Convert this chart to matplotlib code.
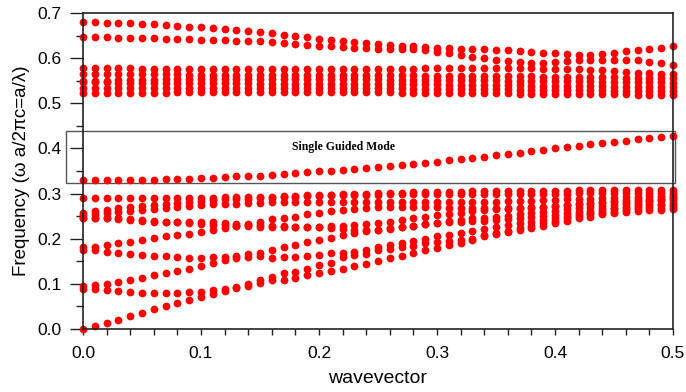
#!/usr/bin/env python3

import numpy as np
import matplotlib
matplotlib.use('Agg')
import matplotlib.pyplot as plt
from matplotlib.patches import Rectangle
from matplotlib.ticker import MultipleLocator, FormatStrFormatter

# wavevector grid (51 points, step 0.01)
k = np.round(np.arange(51) * 0.01, 2)

# ---- lower bands (below the guided mode) ----
p1 = [0.000, 0.007, 0.014, 0.021, 0.029, 0.036, 0.044, 0.050, 0.057, 0.064,
      0.071, 0.077, 0.084, 0.090, 0.096, 0.103, 0.108, 0.109, 0.112, 0.120,
      0.125, 0.129, 0.134, 0.140, 0.145, 0.151, 0.157, 0.162, 0.168, 0.174,
      0.180, 0.186, 0.191, 0.197, 0.205, 0.210, 0.214, 0.219, 0.223, 0.228,
      0.234, 0.239, 0.245, 0.249, 0.254, 0.256, 0.260, 0.261, 0.264, 0.264, 0.266]
p2 = [0.088, 0.088, 0.086, 0.084, 0.081, 0.080, 0.079, 0.079, 0.080, 0.081,
      0.083, 0.086, 0.088, 0.092, 0.099, 0.108, 0.116, 0.123, 0.127, 0.134,
      0.142, 0.147, 0.160, 0.163, 0.167, 0.175, 0.178, 0.181, 0.185, 0.190,
      0.193, 0.195, 0.198, 0.200, 0.208, 0.213, 0.218, 0.223, 0.228, 0.234,
      0.240, 0.245, 0.250, 0.254, 0.258, 0.260, 0.263, 0.265, 0.267, 0.268, 0.270]
p3 = [0.096, 0.097, 0.100, 0.105, 0.109, 0.114, 0.120, 0.123, 0.129, 0.134,
      0.140, 0.146, 0.152, 0.157, 0.160, 0.162, 0.158, 0.159, 0.160, 0.162,
      0.164, 0.168, 0.168, 0.171, 0.175, 0.182, 0.186, 0.190, 0.195, 0.200,
      0.205, 0.209, 0.213, 0.217, 0.222, 0.226, 0.230, 0.234, 0.238, 0.242,
      0.247, 0.251, 0.255, 0.258, 0.261, 0.265, 0.267, 0.270, 0.272, 0.274, 0.275]
p4 = [0.175, 0.174, 0.171, 0.169, 0.166, 0.165, 0.162, 0.161, 0.160, 0.158,
      0.158, 0.160, 0.160, 0.162, 0.166, 0.169, 0.175, 0.181, 0.186, 0.192,
      0.197, 0.202, 0.208, 0.213, 0.217, 0.220, 0.223, 0.226, 0.229, 0.232,
      0.234, 0.236, 0.238, 0.239, 0.240, 0.242, 0.244, 0.246, 0.248, 0.251,
      0.253, 0.256, 0.259, 0.262, 0.265, 0.268, 0.271, 0.274, 0.276, 0.278, 0.280]
p5 = [0.182, 0.182, 0.186, 0.190, 0.193, 0.197, 0.201, 0.205, 0.208, 0.210,
      0.216, 0.219, 0.224, 0.229, 0.233, 0.238, 0.243, 0.247, 0.249, 0.254,
      0.256, 0.261, 0.264, 0.266, 0.268, 0.270, 0.271, 0.271, 0.271, 0.270,
      0.270, 0.269, 0.268, 0.268, 0.267, 0.267, 0.267, 0.268, 0.269, 0.271,
      0.273, 0.275, 0.277, 0.279, 0.280, 0.281, 0.282, 0.283, 0.284, 0.285, 0.285]
p6 = [0.247, 0.247, 0.247, 0.244, 0.241, 0.239, 0.238, 0.236, 0.236, 0.234,
      0.232, 0.231, 0.230, 0.229, 0.228, 0.227, 0.226, 0.225, 0.225, 0.225,
      0.225, 0.224, 0.222, 0.220, 0.219, 0.220, 0.222, 0.225, 0.228, 0.232,
      0.235, 0.239, 0.242, 0.245, 0.247, 0.249, 0.251, 0.254, 0.257, 0.260,
      0.262, 0.265, 0.268, 0.270, 0.272, 0.274, 0.277, 0.280, 0.283, 0.286, 0.290]
p6b = [0.247, 0.247, 0.247, 0.245, 0.243, 0.241, 0.240, 0.238, 0.237, 0.236,
       0.236, 0.236, 0.234, 0.232, 0.231, 0.230, 0.229, 0.228, 0.227, 0.227,
       0.227, 0.228, 0.229, 0.230, 0.232, 0.234, 0.238, 0.241, 0.245, 0.249,
       0.252, 0.255, 0.258, 0.261, 0.263, 0.265, 0.266, 0.268, 0.270, 0.271,
       0.272, 0.274, 0.276, 0.278, 0.281, 0.283, 0.285, 0.287, 0.289, 0.290, 0.292]
p7a = [0.253, 0.255, 0.258, 0.260, 0.262, 0.264, 0.266, 0.268, 0.270, 0.272,
       0.274, 0.276, 0.277, 0.278, 0.279, 0.280, 0.281, 0.281, 0.281, 0.281,
       0.281, 0.281, 0.281, 0.281, 0.281, 0.281, 0.282, 0.282, 0.282, 0.282,
       0.282, 0.282, 0.282, 0.282, 0.282, 0.282, 0.283, 0.283, 0.284, 0.285,
       0.286, 0.287, 0.288, 0.289, 0.290, 0.291, 0.292, 0.293, 0.294, 0.295, 0.296]
p7b = [0.258, 0.261, 0.264, 0.267, 0.270, 0.273, 0.275, 0.278, 0.280, 0.282,
       0.284, 0.286, 0.287, 0.288, 0.289, 0.290, 0.291, 0.292, 0.293, 0.294,
       0.295, 0.296, 0.297, 0.297, 0.298, 0.298, 0.299, 0.299, 0.300, 0.300,
       0.300, 0.300, 0.300, 0.300, 0.300, 0.300, 0.300, 0.300, 0.300, 0.300,
       0.300, 0.300, 0.301, 0.301, 0.301, 0.302, 0.302, 0.302, 0.302, 0.302, 0.302]
p8 = [0.290, 0.291, 0.291, 0.291, 0.291, 0.290, 0.290, 0.290, 0.290, 0.290,
      0.291, 0.291, 0.292, 0.292, 0.293, 0.293, 0.293, 0.294, 0.295, 0.297,
      0.298, 0.298, 0.299, 0.300, 0.300, 0.301, 0.302, 0.302, 0.303, 0.303,
      0.304, 0.304, 0.304, 0.305, 0.305, 0.305, 0.305, 0.306, 0.306, 0.306,
      0.306, 0.306, 0.307, 0.307, 0.307, 0.307, 0.307, 0.307, 0.308, 0.308, 0.308]

# ---- single guided mode ----
guided = [0.330, 0.330, 0.330, 0.330, 0.331, 0.331, 0.331, 0.332, 0.333, 0.333,
          0.334, 0.335, 0.336, 0.338, 0.339, 0.340, 0.342, 0.343, 0.345, 0.347,
          0.349, 0.351, 0.353, 0.355, 0.357, 0.359, 0.361, 0.363, 0.366, 0.368,
          0.371, 0.374, 0.376, 0.379, 0.382, 0.385, 0.388, 0.391, 0.394, 0.397,
          0.400, 0.403, 0.406, 0.409, 0.411, 0.414, 0.417, 0.420, 0.423, 0.426, 0.428]

# ---- upper bands ----
c1 = [0.523, 0.523, 0.523, 0.523, 0.523, 0.523, 0.523, 0.523, 0.524, 0.524,
      0.524, 0.524, 0.524, 0.524, 0.524, 0.524, 0.524, 0.524, 0.524, 0.524,
      0.524, 0.524, 0.524, 0.524, 0.524, 0.524, 0.524, 0.523, 0.523, 0.523,
      0.523, 0.523, 0.523, 0.522, 0.522, 0.522, 0.522, 0.521, 0.521, 0.521,
      0.521, 0.521, 0.520, 0.520, 0.520, 0.520, 0.520, 0.519, 0.519, 0.519, 0.519]
c2 = [0.535, 0.535, 0.535, 0.535, 0.535, 0.535, 0.534, 0.534, 0.534, 0.534,
      0.534, 0.534, 0.534, 0.534, 0.534, 0.534, 0.534, 0.533, 0.533, 0.533,
      0.533, 0.533, 0.533, 0.533, 0.533, 0.533, 0.533, 0.533, 0.532, 0.532,
      0.532, 0.532, 0.532, 0.531, 0.531, 0.531, 0.531, 0.530, 0.530, 0.530,
      0.530, 0.529, 0.529, 0.529, 0.529, 0.528, 0.528, 0.528, 0.528, 0.527, 0.527]
c3 = [0.548, 0.547, 0.547, 0.546, 0.546, 0.545, 0.545, 0.545, 0.544, 0.544,
      0.544, 0.544, 0.544, 0.544, 0.544, 0.543, 0.543, 0.543, 0.543, 0.543,
      0.543, 0.543, 0.543, 0.543, 0.543, 0.543, 0.542, 0.542, 0.542, 0.542,
      0.542, 0.541, 0.541, 0.541, 0.541, 0.540, 0.540, 0.540, 0.539, 0.539,
      0.539, 0.539, 0.538, 0.538, 0.538, 0.537, 0.537, 0.537, 0.536, 0.536, 0.536]
c4 = [0.549, 0.550, 0.550, 0.551, 0.551, 0.552, 0.552, 0.553, 0.553, 0.553,
      0.554, 0.554, 0.554, 0.554, 0.554, 0.553, 0.553, 0.553, 0.553, 0.553,
      0.553, 0.553, 0.553, 0.553, 0.553, 0.553, 0.552, 0.552, 0.552, 0.552,
      0.552, 0.552, 0.551, 0.551, 0.551, 0.551, 0.550, 0.550, 0.550, 0.550,
      0.549, 0.549, 0.549, 0.549, 0.548, 0.548, 0.548, 0.547, 0.547, 0.547, 0.546]
c5 = [0.565, 0.565, 0.565, 0.565, 0.564, 0.564, 0.564, 0.564, 0.564, 0.563,
      0.563, 0.563, 0.563, 0.563, 0.563, 0.563, 0.563, 0.563, 0.563, 0.562,
      0.562, 0.562, 0.562, 0.562, 0.562, 0.562, 0.562, 0.562, 0.562, 0.561,
      0.561, 0.561, 0.561, 0.561, 0.560, 0.560, 0.560, 0.560, 0.560, 0.559,
      0.559, 0.559, 0.559, 0.558, 0.558, 0.558, 0.557, 0.557, 0.557, 0.556, 0.556]
c6 = [0.578, 0.578, 0.578, 0.578, 0.578, 0.577, 0.577, 0.577, 0.577, 0.576,
      0.576, 0.576, 0.576, 0.575, 0.575, 0.575, 0.575, 0.575, 0.575, 0.575,
      0.575, 0.575, 0.575, 0.575, 0.575, 0.576, 0.576, 0.577, 0.577, 0.578,
      0.578, 0.579, 0.579, 0.579, 0.579, 0.579, 0.579, 0.578, 0.578, 0.577,
      0.576, 0.575, 0.575, 0.574, 0.573, 0.571, 0.570, 0.568, 0.567, 0.566, 0.565]
u7 = [0.646, 0.646, 0.646, 0.644, 0.644, 0.644, 0.644, 0.643, 0.643, 0.643,
      0.641, 0.641, 0.640, 0.639, 0.638, 0.637, 0.635, 0.634, 0.631, 0.629,
      0.627, 0.626, 0.624, 0.623, 0.622, 0.621, 0.620, 0.620, 0.620, 0.618,
      0.614, 0.611, 0.607, 0.602, 0.600, 0.597, 0.594, 0.592, 0.590, 0.590,
      0.591, 0.593, 0.595, 0.596, 0.597, 0.597, 0.597, 0.595, 0.592, 0.589, 0.586]
u8 = [0.680, 0.680, 0.679, 0.677, 0.677, 0.676, 0.675, 0.674, 0.672, 0.670,
      0.668, 0.667, 0.665, 0.663, 0.660, 0.657, 0.655, 0.651, 0.649, 0.646,
      0.643, 0.640, 0.638, 0.635, 0.633, 0.631, 0.629, 0.627, 0.626, 0.624,
      0.623, 0.622, 0.621, 0.620, 0.620, 0.619, 0.618, 0.616, 0.614, 0.612,
      0.611, 0.609, 0.607, 0.607, 0.609, 0.612, 0.615, 0.619, 0.621, 0.623, 0.626]

bands = [p1, p2, p3, p4, p5, p6, p6b, p7a, p7b, p8, guided,
         c1, c2, c3, c4, c5, c6, u7, u8]

plt.rcParams['font.family'] = ['Liberation Sans', 'DejaVu Sans']

fig = plt.figure(figsize=(6.86, 3.92), dpi=100)
ax = fig.add_axes([0.121, 0.1607, 0.860, 0.806])

for band in bands:
    ax.plot(k, band, 'o', color='#ff0000', markersize=5.6,
            markeredgewidth=0, clip_on=False)

ax.set_xlim(0, 0.5)
ax.set_ylim(0, 0.7)

ax.xaxis.set_major_locator(MultipleLocator(0.1))
ax.xaxis.set_minor_locator(MultipleLocator(0.02))
ax.yaxis.set_major_locator(MultipleLocator(0.1))
ax.yaxis.set_minor_locator(MultipleLocator(0.05))
ax.xaxis.set_major_formatter(FormatStrFormatter('%.1f'))
ax.yaxis.set_major_formatter(FormatStrFormatter('%.1f'))

ax.tick_params(axis='both', which='both', direction='out', color='#222222',
               width=1.0, labelsize=12.5)
ax.tick_params(axis='x', which='major', length=4.5, pad=8)
ax.tick_params(axis='x', which='minor', length=4.5)
ax.tick_params(axis='y', which='major', length=9.5, pad=6)
ax.tick_params(axis='y', which='minor', length=5)

for side in ['left', 'right', 'top', 'bottom']:
    ax.spines[side].set_linewidth(1.2)
    ax.spines[side].set_color('#222222')

ax.set_xlabel('wavevector', fontsize=14, labelpad=6)
ax.set_ylabel('Frequency (\u03c9 a/2\u03c0c=a/\u03bb)', fontsize=13.5, labelpad=5)

# box around the single guided mode
ax.add_patch(Rectangle((-0.0147, 0.3241), 0.5167, 0.1156, fill=False,
                       edgecolor='#555555', linewidth=1.0, clip_on=False))
ax.text(0.221, 0.403, 'Single Guided Mode', ha='center', va='center',
        fontsize=8.5, fontweight='bold', family='Liberation Serif')

fig.savefig('out.png', dpi=100)
